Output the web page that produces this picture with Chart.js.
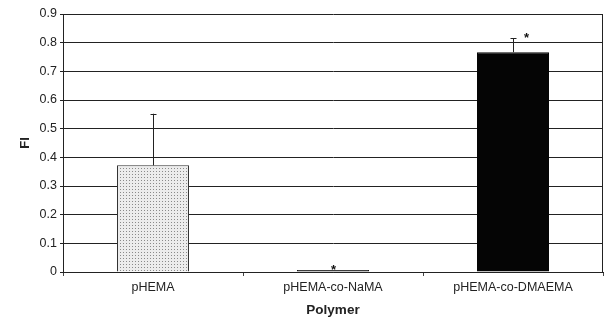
<!DOCTYPE html>
<html>
<head>
<meta charset="utf-8">
<script src="https://cdn.jsdelivr.net/npm/chart.js@4"></script>
<style>
  html, body { margin: 0; padding: 0; background: #fff; }
  #wrap { width: 609px; height: 329px; }
</style>
</head>
<body>
<div id="wrap"><canvas id="c" width="609" height="329"></canvas></div>
<script>
const polymers = ["pHEMA", "pHEMA-co-NaMA", "pHEMA-co-DMAEMA"];
const fiValues = [0.372, 0.007, 0.767];
const fiErrors = [0.18, 0, 0.048];
const significant = [false, true, true];
const yTicks = [0, 0.1, 0.2, 0.3, 0.4, 0.5, 0.6, 0.7, 0.8, 0.9];

const FONT = "'Liberation Sans', Arial, sans-serif";

// dotted fill for the first bar
function dotPattern() {
  const p = document.createElement("canvas");
  p.width = 3; p.height = 3;
  const g = p.getContext("2d");
  g.fillStyle = "#ececec";
  g.fillRect(0, 0, 3, 3);
  g.fillStyle = "#8a8a8a";
  g.fillRect(0, 0, 1, 1);
  return g.createPattern(p, "repeat");
}

const frame = {
  id: "frame",
  afterDatasetsDraw(chart) {
    const { ctx, chartArea: a, scales: { y } } = chart;
    const meta = chart.getDatasetMeta(0);
    ctx.save();
    ctx.strokeStyle = "#222";
    ctx.lineWidth = 1;
    // right border of plot
    ctx.beginPath();
    ctx.moveTo(Math.round(a.right) - 0.5, a.top);
    ctx.lineTo(Math.round(a.right) - 0.5, a.bottom);
    ctx.stroke();
    // upper error bars and stars
    ctx.fillStyle = "#111";
    ctx.font = "bold 13px " + FONT;
    ctx.textAlign = "center";
    meta.data.forEach((bar, i) => {
      const cx = Math.round(bar.x) + 0.5;
      const top = y.getPixelForValue(fiValues[i] + fiErrors[i]);
      if (fiErrors[i] > 0) {
        ctx.beginPath();
        ctx.moveTo(cx, bar.y);
        ctx.lineTo(cx, top);
        ctx.moveTo(cx - 3, Math.round(top) + 0.5);
        ctx.lineTo(cx + 3, Math.round(top) + 0.5);
        ctx.stroke();
      }
      if (significant[i]) {
        const sx = fiErrors[i] > 0 ? cx + 13 : cx;
        ctx.fillText("*", sx, top + 4);
      }
    });
    ctx.restore();
  }
};

new Chart(document.getElementById("c"), {
  type: "bar",
  data: {
    labels: polymers,
    datasets: [{
      data: fiValues,
      backgroundColor: [dotPattern(), "#111", "#050505"],
      borderColor: ["#333", "#111", "#050505"],
      borderWidth: 1,
      barPercentage: 0.4,
      categoryPercentage: 1
    }]
  },
  options: {
    responsive: false,
    animation: false,
    layout: { padding: { top: 14, right: 6, bottom: 0, left: 0 } },
    plugins: { legend: { display: false }, tooltip: { enabled: false } },
    scales: {
      x: {
        grid: { offset: true, drawOnChartArea: false, color: "#444", tickLength: 4 },
        border: { color: "#222", width: 1 },
        ticks: { color: "#222", padding: 4, font: { family: FONT, size: 12.5 } },
        title: { display: true, text: "Polymer", color: "#222", padding: { top: 4, bottom: 11 },
                 font: { family: FONT, size: 13.5, weight: "bold" } },
        afterFit: s => { s.height = 57; }
      },
      y: {
        min: 0, max: 0.9,
        afterBuildTicks: s => { s.ticks = yTicks.map(v => ({ value: v })); },
        grid: { color: "#222", lineWidth: 1, tickLength: 3 },
        border: { color: "#222", width: 1 },
        ticks: { color: "#222", padding: 3, callback: v => String(v),
                 font: { family: FONT, size: 12.5 } },
        title: { display: true, text: "FI", color: "#222", padding: { top: 18, bottom: 4 },
                 font: { family: FONT, size: 13, weight: "bold" } },
        afterFit: s => { s.width = 63; }
      }
    }
  },
  plugins: [frame]
});
</script>
</body>
</html>
